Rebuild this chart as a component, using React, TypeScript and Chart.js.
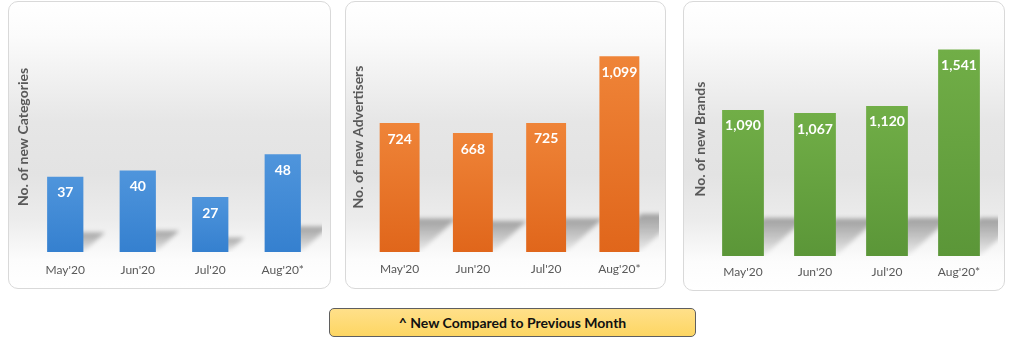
import React, { useEffect, useRef } from "react";
import Chart from "chart.js/auto";

const months = ["May'20", "Jun'20", "Jul'20", "Aug'20*"];
const categoriesValues = [37, 40, 27, 48];
const advertisersValues = [724, 668, 725, 1099];
const brandsValues = [1090, 1067, 1120, 1541];
const categoriesTitle = "No. of new Categories";
const advertisersTitle = "No. of new Advertisers";
const brandsTitle = "No. of new Brands";
const footnote = "^ New Compared to Previous Month";

type PanelCfg = {
  box: { left: number; top: number; width: number; height: number };
  area: { left: number; right: number; top: number; bottom: number };
  values: number[];
  title: string;
  max: number;
  barPct: number;
  topColor: string;
  bottomColor: string;
  titlePad: number;
  tickPad: number;
};

const panels: PanelCfg[] = [
  {
    box: { left: 8, top: 1, width: 323, height: 288 },
    area: { left: 20, right: 310, top: 20, bottom: 250 },
    values: categoriesValues,
    title: categoriesTitle,
    max: 113,
    barPct: 0.5,
    topColor: "#4f95dc",
    bottomColor: "#3580cf",
    titlePad: 6,
    tickPad: 11,
  },
  {
    box: { left: 345, top: 1, width: 321, height: 288 },
    area: { left: 17, right: 310, top: 20, bottom: 250 },
    values: advertisersValues,
    title: advertisersTitle,
    max: 1292,
    barPct: 0.545,
    topColor: "#ef8438",
    bottomColor: "#e0661b",
    titlePad: 4,
    tickPad: 10,
  },
  {
    box: { left: 683, top: 1, width: 322, height: 290 },
    area: { left: 23, right: 311, top: 20, bottom: 254 },
    values: brandsValues,
    title: brandsTitle,
    max: 1746,
    barPct: 0.58,
    topColor: "#71ae47",
    bottomColor: "#5b9638",
    titlePad: 8,
    tickPad: 9,
  },
];

const FONT = "Lato, 'Open Sans', sans-serif";

const shadowPlugin = {
  id: "barShadow",
  beforeDatasetsDraw(chart: any) {
    const ctx = chart.ctx;
    const area = chart.chartArea;
    const meta = chart.getDatasetMeta(0);
    ctx.save();
    ctx.beginPath();
    ctx.rect(area.left, area.top - 20, area.right - area.left + 3, area.bottom - area.top + 20);
    ctx.clip();
    ctx.filter = "blur(2px)";
    meta.data.forEach((bar: any) => {
      const { x, y, base, width } = bar.getProps(["x", "y", "base", "width"], true);
      const left = x - width / 2;
      const right = x + width / 2;
      const h = base - y;
      const dy = Math.min(h * 0.26, 38);
      const dx = dy * 1.1;
      const g = ctx.createLinearGradient(0, base - dy, 0, base);
      g.addColorStop(0, "rgba(0,0,0,0.32)");
      g.addColorStop(0.6, "rgba(0,0,0,0.16)");
      g.addColorStop(1, "rgba(0,0,0,0.04)");
      ctx.fillStyle = g;
      ctx.beginPath();
      ctx.moveTo(left, base);
      ctx.lineTo(right, base);
      ctx.lineTo(right + dx, base - dy);
      ctx.lineTo(left + dx, base - dy);
      ctx.closePath();
      ctx.fill();
    });
    ctx.restore();
  },
};

const labelPlugin = {
  id: "barLabels",
  afterDatasetsDraw(chart: any) {
    const ctx = chart.ctx;
    const meta = chart.getDatasetMeta(0);
    const data = chart.data.datasets[0].data as number[];
    ctx.save();
    ctx.fillStyle = "#ffffff";
    ctx.font = `bold 14px ${FONT}`;
    ctx.textAlign = "center";
    ctx.textBaseline = "middle";
    meta.data.forEach((bar: any, i: number) => {
      const { x, y } = bar.getProps(["x", "y"], true);
      ctx.fillText(data[i].toLocaleString("en-US"), x, y + 16);
    });
    ctx.restore();
  },
};

function Panel({ cfg }: { cfg: PanelCfg }) {
  const ref = useRef<HTMLCanvasElement>(null);
  const cw = cfg.box.width - 2;
  const chh = cfg.box.height - 2;
  useEffect(() => {
    if (!ref.current) return;
    const chart = new Chart(ref.current, {
      type: "bar",
      data: {
        labels: months,
        datasets: [
          {
            data: cfg.values,
            backgroundColor: (c: any) => {
              const ch = c.chart;
              if (!ch.chartArea || c.raw == null) return cfg.bottomColor;
              const yTop = ch.scales.y.getPixelForValue(c.raw);
              const yBot = ch.scales.y.getPixelForValue(0);
              const g = ch.ctx.createLinearGradient(0, yTop, 0, yBot);
              g.addColorStop(0, cfg.topColor);
              g.addColorStop(1, cfg.bottomColor);
              return g;
            },
            borderWidth: 0,
            categoryPercentage: 1,
            barPercentage: cfg.barPct,
          },
        ],
      },
      options: {
        responsive: false,
        animation: false,
        devicePixelRatio: 1,
        layout: {
          padding: {
            left: 0,
            right: cw - cfg.area.right,
            top: cfg.area.top,
            bottom: 0,
          },
        },
        plugins: {
          legend: { display: false },
          tooltip: { enabled: false },
          title: { display: false },
        },
        scales: {
          x: {
            grid: { display: false, drawTicks: false },
            border: { display: false },
            ticks: {
              color: "#595959",
              font: { family: FONT, size: 12 },
              padding: cfg.tickPad,
              maxRotation: 0,
              autoSkip: false,
            },
            afterFit: (s: any) => {
              s.height = chh - cfg.area.bottom;
            },
          },
          y: {
            min: 0,
            max: cfg.max,
            grid: { display: false, drawTicks: false },
            border: { display: false },
            ticks: { display: false },
            title: {
              display: true,
              text: cfg.title,
              color: "#595959",
              font: { family: FONT, size: 14, weight: "bold" },
              padding: { top: cfg.titlePad, bottom: 0 },
            },
            afterFit: (s: any) => {
              s.width = cfg.area.left;
            },
          },
        },
      },
      plugins: [shadowPlugin, labelPlugin],
    } as any);
    return () => chart.destroy();
  }, []);
  return (
    <>
      <div
        style={{
          position: "absolute",
          left: cfg.box.left,
          top: cfg.box.top,
          width: cfg.box.width,
          height: cfg.box.height,
          boxSizing: "border-box",
          border: "1px solid #d9d9d9",
          borderRadius: 10,
          background:
            "linear-gradient(to bottom, #ffffff 0%, #fbfbfb 12%, #e6e6e6 42%, #e3e3e3 60%, #ececec 76%, #fcfcfc 90%, #ffffff 100%)",
        }}
      />
      <canvas
        ref={ref}
        width={cw}
        height={chh}
        style={{
          position: "absolute",
          left: cfg.box.left + 1,
          top: cfg.box.top + 1,
          width: cw,
          height: chh,
        }}
      />
    </>
  );
}

export default function App() {
  return (
    <div
      style={{
        position: "absolute",
        left: 0,
        top: 0,
        width: 1024,
        height: 346,
        background: "#ffffff",
        overflow: "hidden",
      }}
    >
      {panels.map((p, i) => (
        <Panel key={i} cfg={p} />
      ))}
      <div
        style={{
          position: "absolute",
          left: 329,
          top: 308,
          width: 367,
          height: 29,
          boxSizing: "border-box",
          border: "1.5px solid #5f5f5f",
          borderRadius: 5,
          background: "linear-gradient(to bottom, #ffe08a, #fdd663)",
          display: "flex",
          alignItems: "center",
          justifyContent: "center",
          fontFamily: FONT,
          fontWeight: "bold",
          fontSize: 14,
          color: "#111111",
        }}
      >
        {footnote}
      </div>
    </div>
  );
}
